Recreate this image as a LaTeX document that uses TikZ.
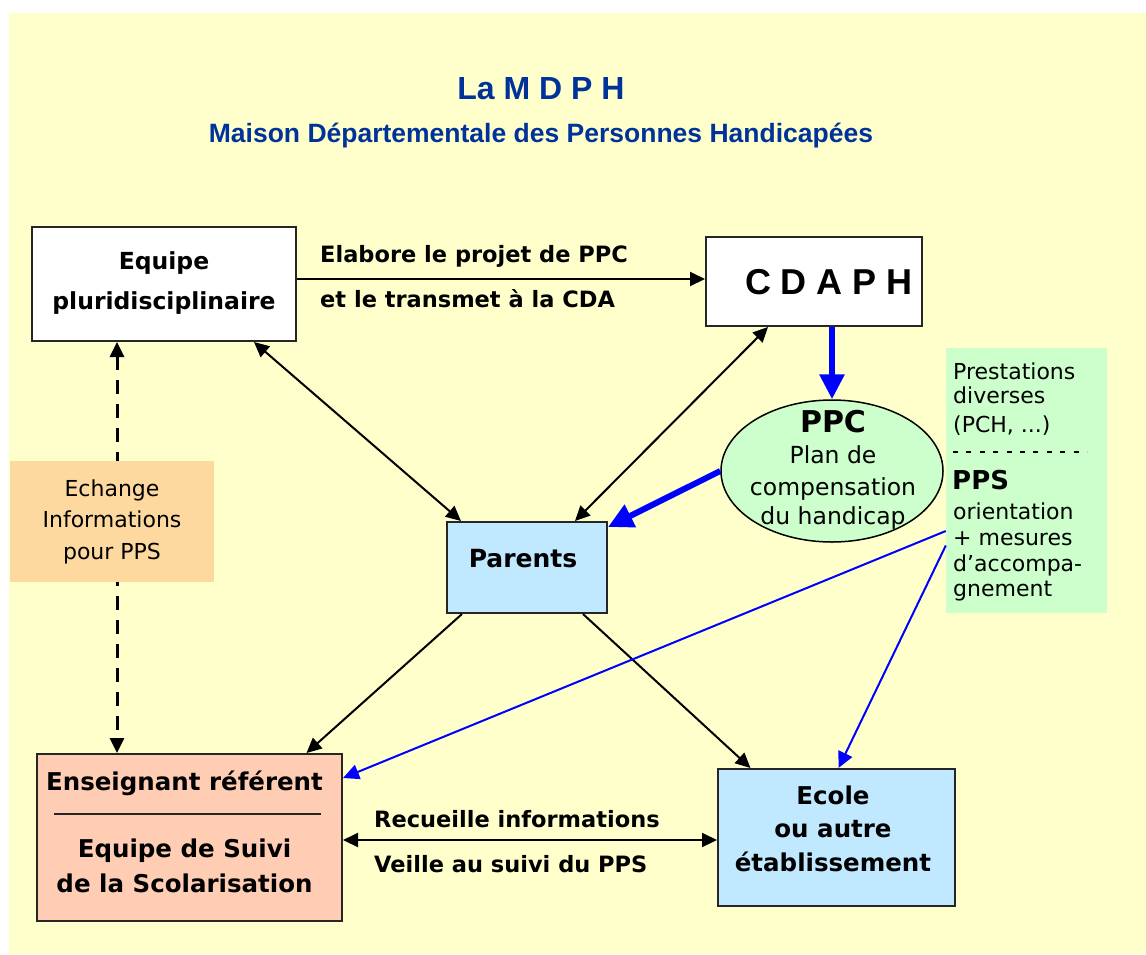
\documentclass[tikz,border=0pt]{standalone}
\usepackage{fontspec}
\setmainfont{DejaVu Sans}
\newfontfamily\libsans{Liberation Sans}
\usetikzlibrary{arrows.meta,calc,shapes.geometric}
\definecolor{bgyellow}{RGB}{255,255,204}
\definecolor{ttl}{RGB}{0,51,153}
\definecolor{lblue}{RGB}{192,232,255}
\definecolor{peach}{RGB}{253,217,160}
\definecolor{salmon}{RGB}{255,204,180}
\definecolor{lgreen}{RGB}{204,255,204}
\definecolor{arrblue}{RGB}{0,0,255}
\begin{document}
\begin{tikzpicture}[x=1pt,y=-1pt,
  box/.style={draw=black!85,line width=2pt,inner sep=0pt},
  bt/.style={anchor=base,inner sep=0pt,font=\fontsize{24}{28}\selectfont\bfseries},
  lt/.style={anchor=base west,inner sep=0pt,font=\fontsize{22.5}{26}\selectfont\bfseries},
  rt/.style={anchor=base,inner sep=0pt,font=\fontsize{22}{26}\selectfont},
  gt/.style={anchor=base west,inner sep=0pt,font=\fontsize{22}{26}\selectfont},
  blk/.style={line width=2pt,black,>={Triangle[length=15pt,width=14pt]}},
  dsh/.style={line width=3pt,black,dash pattern=on 14pt off 10pt,>={Triangle[length=15pt,width=14pt]}},
  bthick/.style={line width=6pt,arrblue,-{Triangle[length=25pt,width=24pt]}},
  bthin/.style={line width=2pt,arrblue,-{Triangle[length=16pt,width=15pt]}}
]
\useasboundingbox (0,0) rectangle (1146,954);
\fill[white] (0,0) rectangle (1146,954);
\fill[bgyellow] (9,13) rectangle (1146,954);

% title
\node[anchor=base,inner sep=0pt,text=ttl,font=\libsans\fontsize{32}{36}\selectfont\bfseries] (title) at (541,99) {La M D P H};
\node[anchor=base,inner sep=0pt,text=ttl,font=\libsans\fontsize{26.5}{30}\selectfont\bfseries] (subtitle) at (541,142) {Maison Départementale des Personnes Handicapées};

% boxes
\node[box,fill=white,minimum width=264pt,minimum height=114pt] (equipe) at (164,284) {};
\node[box,fill=white,minimum width=216pt,minimum height=89pt] (cdaph) at (814,281.5) {};
\node[box,fill=lblue,minimum width=160pt,minimum height=91pt] (parents) at (527,567.5) {};
\node[box,fill=salmon,minimum width=305pt,minimum height=167pt] (ens) at (189.5,837.5) {};
\node[box,fill=lblue,minimum width=237pt,minimum height=137pt] (ecole) at (836.5,837.5) {};
\node[fill=lgreen,minimum width=161pt,minimum height=265pt,inner sep=0pt] (pps) at (1026.5,480.5) {};
\node[ellipse,draw=black,line width=1.5pt,fill=lgreen,minimum width=222pt,minimum height=142pt,inner sep=0pt] (ppc) at (832,471) {};

% dashed exchange line (behind the Echange box)
\draw[dsh,<->] ([xshift=-47pt]equipe.south) -- ([xshift=-72.5pt]ens.north);
\node[fill=peach,minimum width=204pt,minimum height=121pt,inner sep=0pt] (echange) at (112,521.5) {};

% texts in boxes
\node[bt,font=\fontsize{23.5}{28}\selectfont\bfseries] (eq1) at (164,269) {Equipe};
\node[bt,font=\fontsize{23.5}{28}\selectfont\bfseries] (eq2) at (164,309) {pluridisciplinaire};
\node[anchor=base,inner sep=0pt,font=\libsans\fontsize{36}{40}\selectfont\bfseries] (cd1) at (829,294) {C D A P H};
\node[bt,font=\fontsize{25}{28}\selectfont\bfseries] (pa1) at (523,567) {Parents};
\node[rt] (ec1) at (112,496) {Echange};
\node[rt] (ec2) at (112,527) {Informations};
\node[rt] (ec3) at (112,559) {pour PPS};

\node[gt] (g1) at (953,379) {Prestations};
\node[gt] (g2) at (953,403) {diverses};
\node[gt] (g3) at (953,432) {(PCH, ...)};
\draw[line width=1.5pt,dash pattern=on 5pt off 8.4pt] (953,452) -- (1087,452);
\node[gt,font=\fontsize{26}{30}\selectfont\bfseries] (g4) at (952,489) {PPS};
\node[gt] (g5) at (953,519) {orientation};
\node[gt] (g6) at (953,545) {+ mesures};
\node[gt] (g7) at (953,571) {d'accompa-};
\node[gt] (g8) at (953,596) {gnement};

\node[anchor=base,inner sep=0pt,font=\fontsize{30}{34}\selectfont\bfseries] (p1) at (833,432) {PPC};
\node[anchor=base,inner sep=0pt,font=\fontsize{23.5}{28}\selectfont] (p2) at (833,463) {Plan de};
\node[anchor=base,inner sep=0pt,font=\fontsize{23.5}{28}\selectfont] (p3) at (833,495) {compensation};
\node[anchor=base,inner sep=0pt,font=\fontsize{23.5}{28}\selectfont] (p4) at (833,524) {du handicap};

\node[bt,font=\fontsize{24.5}{28}\selectfont\bfseries] (en1) at (184.5,790) {Enseignant référent};
\draw[line width=2pt,black!85] (54,814) -- (321,814);
\node[bt,font=\fontsize{24.5}{28}\selectfont\bfseries] (en2) at (184.5,857) {Equipe de Suivi};
\node[bt,font=\fontsize{24.5}{28}\selectfont\bfseries] (en3) at (184.5,892) {de la Scolarisation};

\node[bt,font=\fontsize{24.5}{28}\selectfont\bfseries] (el1) at (833,804) {Ecole};
\node[bt,font=\fontsize{24.5}{28}\selectfont\bfseries] (el2) at (833,837) {ou autre};
\node[bt,font=\fontsize{24.5}{28}\selectfont\bfseries] (el3) at (833,871) {établissement};

% connector labels
\node[lt] (la1) at (320,262) {Elabore le projet de PPC};
\node[lt] (la2) at (320,307) {et le transmet à la CDA};
\node[lt] (lb1) at (374,827) {Recueille informations};
\node[lt] (lb2) at (374,872) {Veille au suivi du PPS};

% black connectors
\draw[blk,->] ([yshift=5pt]equipe.east) -- ([yshift=2.5pt]cdaph.west);
\draw[blk,<->] ([xshift=90pt]equipe.south) -- ([xshift=-66pt]parents.north);
\draw[blk,<->] ([xshift=-46pt]cdaph.south) -- ([xshift=48pt]parents.north);
\draw[blk,->] ([xshift=-65pt]parents.south) -- ([xshift=117pt]ens.north);
\draw[blk,->] ([xshift=56pt]parents.south) -- ([xshift=-86pt]ecole.north);
\draw[blk,<->] ([yshift=-2.5pt]ens.east) -- ([yshift=-2.5pt]ecole.west);

% blue connectors
\draw[bthick] (ppc.north |- cdaph.south) -- (ppc.north);
\draw[bthick] (ppc.west) -- ([yshift=-6pt]parents.north east);
\draw[bthin] ([yshift=-50.5pt]pps.west) -- ([yshift=59.5pt]ens.east);
\draw[bthin] ([yshift=-65pt]pps.west) -- ([xshift=2pt]ecole.north);
\end{tikzpicture}
\end{document}
